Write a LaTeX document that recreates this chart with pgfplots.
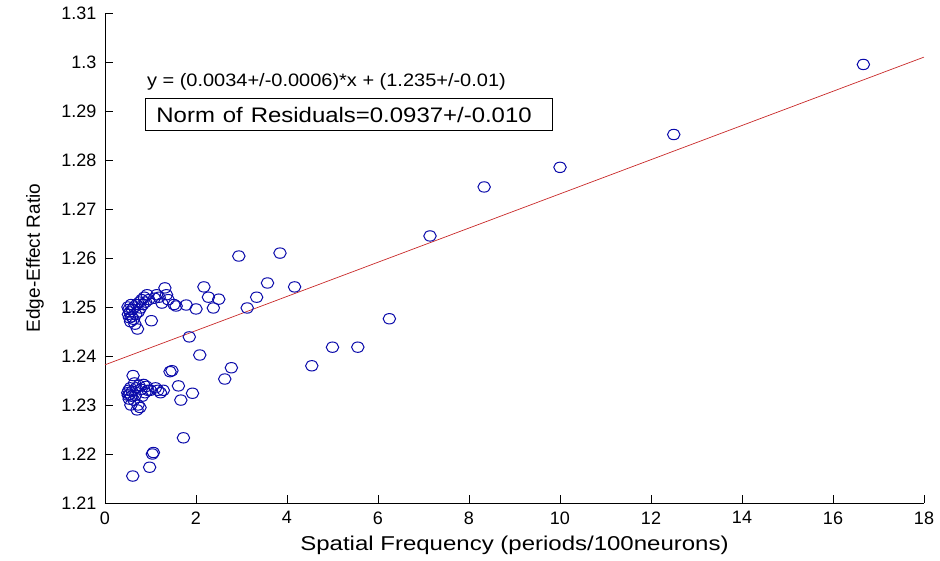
\documentclass[border=0pt]{standalone}
\usepackage{fontspec}
\setmainfont{Liberation Sans}
\usepackage{pgfplots}
\pgfplotsset{compat=1.18}
\definecolor{mblue}{RGB}{10,10,170}
\definecolor{mred}{RGB}{200,40,40}
\begin{document}
\begin{tikzpicture}
\useasboundingbox (-105pt,-58pt) rectangle (835pt,503pt);
\begin{axis}[
  at={(0,0)}, anchor=south west,
  scale only axis, width=819pt, height=490pt,
  xmin=0, xmax=18, ymin=1.21, ymax=1.31,
  xtick={0,2,...,18},
  ytick={1.21,1.22,1.23,1.24,1.25,1.26,1.27,1.28,1.29,1.3,1.31},
  axis x line*=bottom, axis y line*=left,
  tick align=inside, major tick length=8pt,
  axis line style={black, line width=0.8pt},
  every tick/.style={black, line width=0.8pt},
  /pgf/number format/assume math mode=true,
  yticklabel style={/pgf/number format/fixed, font=\fontsize{18}{20}\selectfont, xshift=-5pt},
  xticklabel style={font=\fontsize{18}{20}\selectfont, yshift=-5pt},
  xlabel={\scalebox{1.2}[1]{Spatial Frequency (periods/100neurons)}},
  ylabel={Edge-Effect Ratio},
  xlabel style={font=\fontsize{20}{23}\selectfont, at={([yshift=-42pt]axis description cs:0.5,0)}, anchor=center},
  ylabel style={font=\fontsize{19}{22}\selectfont, at={([xshift=-70pt]axis description cs:0,0.5)}, anchor=center},
  clip=false,
]
\addplot[mred, line width=0.7pt, no marks] coordinates {(0,1.2382) (18,1.3010)};
\addplot[only marks, mark=o, mark size=5.2pt, mblue, mark options={line width=1pt, xscale=1.2}] coordinates {
(16.667,1.2995) (12.5,1.2852) (10,1.2785) (8.333,1.2745) (7.143,1.2645)
(6.25,1.2476) (5.556,1.2418) (5.0,1.2418) (4.545,1.2380) (4.167,1.2541)
(3.846,1.2610) (3.571,1.2549) (3.333,1.2520) (3.125,1.2498) (2.941,1.2604)
(2.778,1.2376) (2.632,1.2353) (2.5,1.2516) (2.381,1.2498) (2.273,1.2520)
(2.174,1.2541) (2.083,1.2402) (2.0,1.2496) (1.923,1.2324) (1.852,1.2439)
(1.786,1.2504) (1.724,1.2233) (1.667,1.2310) (1.613,1.2339) (1.5625,1.2502)
(1.515,1.2505) (1.471,1.2370) (1.429,1.2368) (1.389,1.2515) (1.351,1.2525)
(1.316,1.2539) (1.282,1.2330) (1.25,1.2508) (1.220,1.2325) (1.190,1.2520)
(1.163,1.2330) (1.136,1.2525) (1.111,1.2335) (1.087,1.2518) (1.064,1.2203)
(1.042,1.2200) (1.020,1.2472) (1.0,1.2330) (0.980,1.2173) (0.962,1.2515)
(0.943,1.2330) (0.926,1.2525) (0.909,1.2338) (0.893,1.2510) (0.877,1.2325)
(0.862,1.2520) (0.847,1.2342) (0.833,1.2505) (0.820,1.2318) (0.806,1.2515)
(0.794,1.2332) (0.781,1.2498) (0.769,1.2295) (0.758,1.2510) (0.746,1.2340)
(0.735,1.2490) (0.725,1.2300) (0.714,1.2455) (0.704,1.2290) (0.694,1.2505)
(0.685,1.2335) (0.676,1.2485) (0.667,1.2320) (0.658,1.2465) (0.649,1.2345)
(0.641,1.2500) (0.633,1.2310) (0.625,1.2475) (0.617,1.2360) (0.610,1.2155)
(0.602,1.2495) (0.595,1.2328) (0.588,1.2480) (0.581,1.2318) (0.575,1.2505)
(0.568,1.2300) (0.562,1.2470) (0.556,1.2335) (0.549,1.2490) (0.543,1.2322)
(0.538,1.2478) (0.532,1.2312) (0.526,1.2495) (0.521,1.2330) (0.515,1.2485)
(0.510,1.2320) (0.505,1.2500) (0.5,1.2325)
};
\node[anchor=west, font=\fontsize{18}{21}\selectfont, inner sep=0pt] at (axis cs:0.92,1.2959) {\scalebox{1.11}[1]{y = (0.0034+/-0.0006)*x + (1.235+/-0.01)}};
\node[draw=black, line width=0.8pt, anchor=north west, text width=385pt, align=left, inner xsep=11pt, minimum height=32pt, font=\fontsize{21}{24}\selectfont] at (axis cs:0.88,1.2926) {\scalebox{1.14}[1]{Norm of Residuals=0.0937+/-0.010}};
\end{axis}
\end{tikzpicture}
\end{document}
